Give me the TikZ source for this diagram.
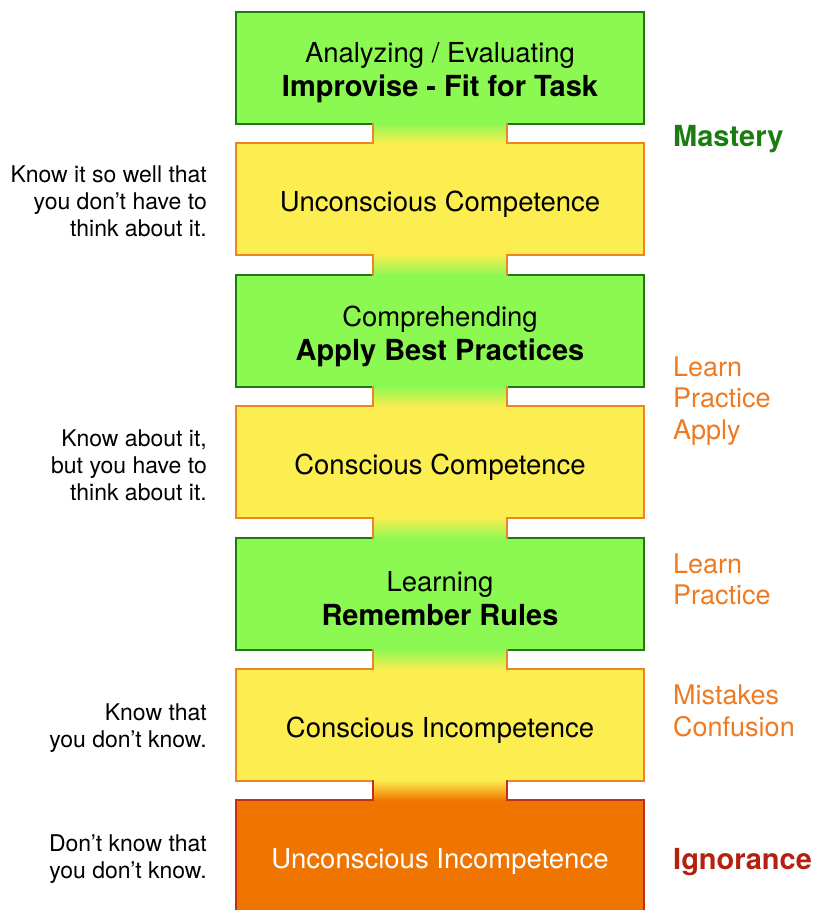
\documentclass[tikz,border=0pt]{standalone}
\usepackage{fontspec}
\setmainfont{TeX Gyre Heros}
\usetikzlibrary{calc}
\definecolor{gfill}{HTML}{8CF852}
\definecolor{gline}{HTML}{1E7A14}
\definecolor{yfill}{HTML}{FCEE50}
\definecolor{yline}{HTML}{EE8422}
\definecolor{ofill}{HTML}{F07400}
\definecolor{oline}{HTML}{C0301A}
\definecolor{olab}{HTML}{EE7A22}
\definecolor{mgreen}{HTML}{1B7C12}
\definecolor{ired}{HTML}{B5200F}
\begin{document}
\begin{tikzpicture}[x=1pt,y=-1pt,
  box/.style={draw, line width=1.6pt, minimum width=408pt, minimum height=112pt,
    inner sep=0pt, outer sep=0pt},
  gbox/.style={box, fill=gfill, draw=gline},
  ybox/.style={box, fill=yfill, draw=yline},
  obox/.style={box, fill=ofill, draw=oline},
  boxtxt/.style={inner sep=0pt, align=center, font=\fontsize{27.5}{34}\selectfont},
  lefttxt/.style={anchor=east, align=right, font=\fontsize{23}{27}\selectfont, inner sep=0pt},
  righttxt/.style={anchor=west, align=left, font=\fontsize{27}{31.5}\selectfont, inner sep=0pt, text=olab},
  boldlab/.style={anchor=west, inner sep=0pt, font=\fontsize{29}{34}\selectfont\bfseries},
  side/.style={line width=1.6pt, line cap=rect},
]
\useasboundingbox (0,0) rectangle (814,910);
\clip (0,0) rectangle (814,910);

\node[gbox] (b1) at (440,68) {};
\node[ybox] (b2) at (440,199) {};
\node[gbox] (b3) at (440,331) {};
\node[ybox] (b4) at (440,462) {};
\node[gbox] (b5) at (440,594) {};
\node[ybox] (b6) at (440,725) {};
\node[obox] (b7) at (440,856) {};

% connectors
\foreach \u/\l/\cu/\cl/\cs in {b1/b2/gfill/yfill/yline, b2/b3/yfill/gfill/yline,
    b3/b4/gfill/yfill/yline, b4/b5/yfill/gfill/yline, b5/b6/gfill/yfill/yline,
    b6/b7/yfill/ofill/oline}{
  \shade[top color=\cu, bottom color=\cl] ($(\u.south)+(-67,-1)$) rectangle ($(\l.north)+(67,1)$);
  \draw[side, draw=\cs] ($(\u.south)+(-67,0)$) -- ($(\l.north)+(-67,0)$);
  \draw[side, draw=\cs] ($(\u.south)+(67,0)$) -- ($(\l.north)+(67,0)$);
}

% box texts
\node[boxtxt] (t1) at ($(b1)+(0,5)$) {Analyzing / Evaluating\\{\fontsize{29}{34}\selectfont\bfseries Improvise - Fit for Task}};
\node[boxtxt] (t2) at ($(b2)+(0,5)$) {Unconscious Competence};
\node[boxtxt] (t3) at ($(b3)+(0,5)$) {Comprehending\\{\fontsize{29}{34}\selectfont\bfseries Apply Best Practices}};
\node[boxtxt] (t4) at ($(b4)+(0,5)$) {Conscious Competence};
\node[boxtxt] (t5) at ($(b5)+(0,5)$) {Learning\\{\fontsize{29}{34}\selectfont\bfseries Remember Rules}};
\node[boxtxt] (t6) at ($(b6)+(0,5)$) {Conscious Incompetence};
\node[boxtxt, text=white] (t7) at ($(b7)+(0,5)$) {Unconscious Incompetence};

% left texts
\node[lefttxt] (l2) at (207,201) {Know it so well that\\you don’t have to\\think about it.};
\node[lefttxt] (l4) at (207,465) {Know about it,\\but you have to\\think about it.};
\node[lefttxt] (l6) at (207,728) {Know that\\you don’t know.};
\node[lefttxt] (l7) at (207,859) {Don’t know that\\you don’t know.};

% right labels
\node[boldlab, text=mgreen] (r1) at (673,139) {Mastery};
\node[righttxt] (r3) at (673,401) {Learn\\Practice\\Apply};
\node[righttxt] (r5) at (673,579.5) {Learn\\Practice};
\node[righttxt] (r6) at (673,711) {Mistakes\\Confusion};
\node[boldlab, text=ired] (r7) at (673,862) {Ignorance};
\end{tikzpicture}
\end{document}
